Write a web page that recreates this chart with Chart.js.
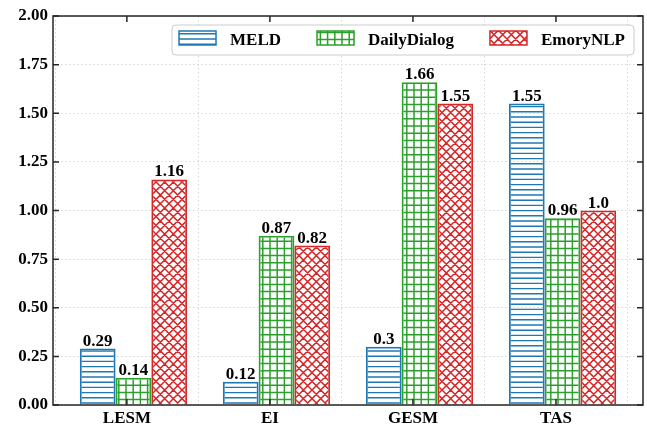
<!DOCTYPE html>
<html>
<head>
<meta charset="utf-8">
<script src="https://cdn.jsdelivr.net/npm/chart.js@4.4.1/dist/chart.umd.min.js"></script>
<style>
  html, body { margin: 0; padding: 0; background: #fff; }
  canvas { display: block; }
</style>
</head>
<body>
<canvas id="myChart" width="647" height="428"></canvas>
<script>
// Categories and series values
var categories = ["LESM", "EI", "GESM", "TAS"];
var seriesNames = ["MELD", "DailyDialog", "EmoryNLP"];
var meldValues = [0.29, 0.12, 0.3, 1.55];
var dailyValues = [0.14, 0.87, 1.66, 0.96];
var emoryValues = [1.16, 0.82, 1.55, 1.0];

// Labels printed above the bars
var meldText = ["0.29", "0.12", "0.3", "1.55"];
var dailyText = ["0.14", "0.87", "1.66", "0.96"];
var emoryText = ["1.16", "0.82", "1.55", "1.0"];

// Y axis tick values
var yTicks = [0, 0.25, 0.5, 0.75, 1, 1.25, 1.5, 1.75, 2];

var valueSets = [meldValues, dailyValues, emoryValues];
var textSets = [meldText, dailyText, emoryText];
var colors = ["#1f77b4", "#2ca02c", "#d62728"];
var kinds = ["lines", "grid", "cross"];
var FONT = 'bold 17px "Liberation Serif", "Times New Roman", serif';
var TICK_SHIFT = -0.046;

// Build a hatch pattern like matplotlib's '-', '+' and 'x'
function hatch(kind, color) {
  var c = document.createElement("canvas");
  var g = c.getContext("2d");
  var size, n, p, k;
  if (kind === "lines") { size = 26; n = 5; }
  else if (kind === "grid") { size = 36; n = 5; }
  else { size = 26; n = 3; }
  c.width = size; c.height = size;
  p = size / n;
  g.strokeStyle = color;
  g.lineWidth = kind === "lines" ? 1.4 : 1.5;
  g.beginPath();
  if (kind === "lines" || kind === "grid") {
    for (k = 0; k < n; k++) {
      g.moveTo(0, k * p + p / 2);
      g.lineTo(size, k * p + p / 2);
    }
  }
  if (kind === "grid") {
    for (k = 0; k < n; k++) {
      g.moveTo(k * p + p / 2, 0);
      g.lineTo(k * p + p / 2, size);
    }
  }
  if (kind === "cross") {
    for (k = -n; k <= 2 * n; k++) {
      g.moveTo(k * p, 0);
      g.lineTo(k * p + size, size);
      g.moveTo(k * p, 0);
      g.lineTo(k * p - size, size);
    }
  }
  g.stroke();
  return g.createPattern(c, "repeat");
}

var patterns = kinds.map(function (k, s) { return hatch(k, colors[s]); });

var chartData = {
  datasets: seriesNames.map(function (name, s) {
    return {
      label: name,
      data: valueSets[s].map(function (v, i) { return { x: i, y: v }; }),
      backgroundColor: patterns[s],
      borderColor: colors[s],
      borderWidth: 1.8
    };
  })
};

// Frame with inward ticks on all four sides
var framePlugin = {
  id: "frame",
  afterDatasetsDraw: function (chart) {
    var a = chart.chartArea, ctx = chart.ctx;
    var xs = chart.scales.x, ys = chart.scales.y;
    ctx.save();
    ctx.strokeStyle = "#262626";
    ctx.lineWidth = 1.5;
    ctx.strokeRect(a.left, a.top, a.right - a.left, a.bottom - a.top);
    ctx.beginPath();
    xs.ticks.forEach(function (t) {
      var x = xs.getPixelForValue(t.value);
      ctx.moveTo(x, a.bottom); ctx.lineTo(x, a.bottom - 6);
      ctx.moveTo(x, a.top); ctx.lineTo(x, a.top + 6);
    });
    ys.ticks.forEach(function (t) {
      var y = ys.getPixelForValue(t.value);
      ctx.moveTo(a.left, y); ctx.lineTo(a.left + 6, y);
      ctx.moveTo(a.right, y); ctx.lineTo(a.right - 6, y);
    });
    ctx.stroke();
    ctx.restore();
  }
};

// Numbers above the bars
var valueLabelPlugin = {
  id: "valueLabels",
  afterDatasetsDraw: function (chart) {
    var ctx = chart.ctx;
    ctx.save();
    ctx.font = FONT;
    ctx.fillStyle = "#000";
    ctx.textAlign = "center";
    ctx.textBaseline = "alphabetic";
    chart.data.datasets.forEach(function (ds, s) {
      chart.getDatasetMeta(s).data.forEach(function (bar, i) {
        ctx.fillText(textSets[s][i], bar.x, bar.y - 3);
      });
    });
    ctx.restore();
  }
};

// Legend box inside the plot, top right
var legendPlugin = {
  id: "boxLegend",
  afterDraw: function (chart) {
    var a = chart.chartArea, ctx = chart.ctx;
    var patchW = 37, patchH = 14, gap = 14, between = 36, padL = 7, padR = 9, h = 30;
    ctx.save();
    ctx.font = FONT;
    var widths = seriesNames.map(function (n) { return ctx.measureText(n).width; });
    var total = padL + padR + between * (seriesNames.length - 1);
    widths.forEach(function (w) { total += patchW + gap + w; });
    var right = a.right - 9, top = a.top + 9, left = right - total;
    ctx.beginPath();
    ctx.roundRect(left, top, total, h, 4);
    ctx.fillStyle = "rgba(255,255,255,0.9)";
    ctx.fill();
    ctx.strokeStyle = "#cccccc";
    ctx.lineWidth = 1;
    ctx.stroke();
    var x = left + padL;
    seriesNames.forEach(function (name, s) {
      ctx.fillStyle = patterns[s];
      ctx.fillRect(x, top + 6, patchW, patchH);
      ctx.strokeStyle = colors[s];
      ctx.lineWidth = 1.5;
      ctx.strokeRect(x, top + 6, patchW, patchH);
      ctx.fillStyle = "#000";
      ctx.textAlign = "left";
      ctx.textBaseline = "alphabetic";
      ctx.fillText(name, x + patchW + gap, top + 19.5);
      x += patchW + gap + widths[s] + between;
    });
    ctx.restore();
  }
};

var ctx = document.getElementById("myChart").getContext("2d");
var myChart = new Chart(ctx, {
  type: "bar",
  data: chartData,
  plugins: [framePlugin, valueLabelPlugin, legendPlugin],
  options: {
    responsive: false,
    animation: false,
    devicePixelRatio: 1,
    layout: { padding: { top: 16, right: 4, left: 0, bottom: 0 } },
    datasets: { bar: { categoryPercentage: 0.75, barPercentage: 1.0, grouped: true } },
    plugins: { legend: { display: false }, tooltip: { enabled: false } },
    scales: {
      x: {
        type: "linear",
        min: -0.5625,
        max: 3.5625,
        offset: false,
        afterBuildTicks: function (scale) {
          scale.ticks = categories.map(function (c, i) { return { value: i + TICK_SHIFT }; });
        },
        afterFit: function (scale) { scale.height = 23; },
        grid: { color: "#d6d6d6", lineWidth: 1, drawTicks: false, borderDash: [1.5, 2.5] },
        border: { display: false, dash: [1.5, 2.5] },
        ticks: {
          padding: 3,
          color: "#000",
          font: { family: '"Liberation Serif", "Times New Roman", serif', size: 17, weight: "bold" },
          autoSkip: false,
          maxRotation: 0,
          callback: function (v, i) { return categories[i]; }
        }
      },
      y: {
        min: 0,
        max: 2,
        afterBuildTicks: function (scale) {
          scale.ticks = yTicks.map(function (v) { return { value: v }; });
        },
        afterFit: function (scale) { scale.width = 53; },
        grid: { color: "#d6d6d6", lineWidth: 1, drawTicks: false, borderDash: [1.5, 2.5] },
        border: { display: false, dash: [1.5, 2.5] },
        ticks: {
          padding: 5,
          color: "#000",
          font: { family: '"Liberation Serif", "Times New Roman", serif', size: 17, weight: "bold" },
          callback: function (v) { return v.toFixed(2); }
        }
      }
    }
  }
});
</script>
</body>
</html>
